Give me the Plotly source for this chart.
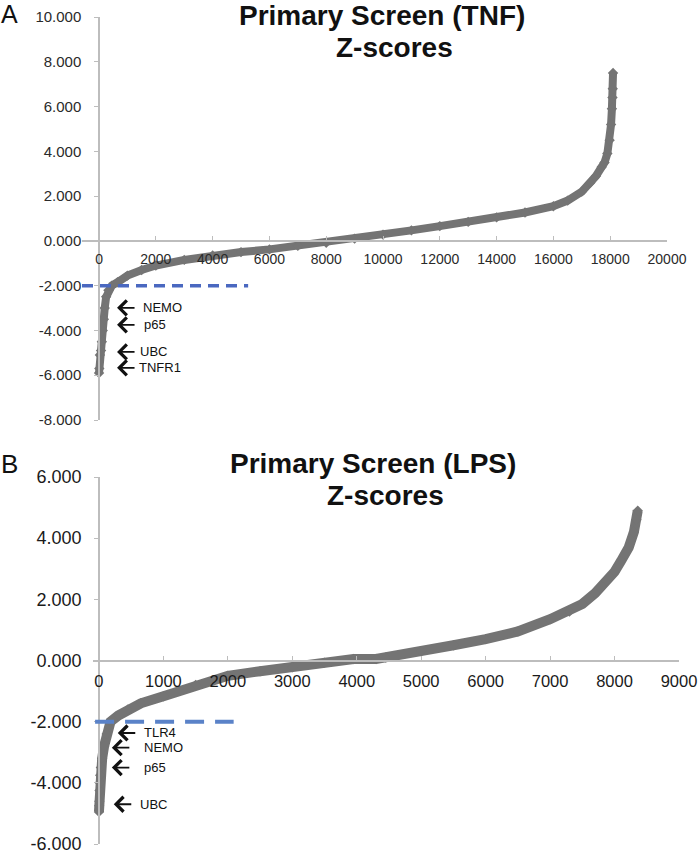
import plotly.graph_objects as go

W, H = 700, 856
FONT = "Liberation Sans, Arial, Helvetica, sans-serif"
GRAY = "#747474"
AXIS = "#bdbdbd"
BLUE_A = "#4a68c0"
BLUE_B = "#5a82c8"

# ---------------- data ----------------
# Panel A: TNF primary screen, sorted Z-scores
tnf_rank = [0, 10, 30, 70, 100, 130, 170, 200, 250, 330, 450, 650, 1000, 1500,
            2000, 3000, 4000, 5000, 6000, 7000, 8000, 9000, 10000, 11000, 12000,
            13000, 14000, 15000, 16000, 16500, 17000, 17300, 17500, 17700, 17800,
            17900, 17980, 18030, 18060, 18080, 18090, 18100]
tnf_z = [-5.9, -5.7, -5.1, -4.9, -4.5, -4.0, -3.5, -3.0, -2.5, -2.2, -2.0, -1.85,
         -1.55, -1.3, -1.1, -0.85, -0.65, -0.5, -0.38, -0.22, -0.08, 0.1, 0.28,
         0.47, 0.66, 0.85, 1.05, 1.27, 1.55, 1.8, 2.2, 2.6, 2.9, 3.3, 3.5, 3.9,
         4.5, 5.2, 5.9, 6.4, 6.8, 7.5]

# Panel B: LPS primary screen, sorted Z-scores
lps_rank = [0, 3, 6, 10, 14, 20, 30, 50, 80, 120, 180, 300, 450, 650, 1000, 1500,
            2000, 2500, 3000, 3500, 3950, 4300, 4450, 5000, 5500, 6000, 6500, 7000,
            7300, 7500, 7700, 7880, 8000, 8100, 8220, 8300, 8340, 8360]
lps_z = [-4.95, -4.75, -4.6, -4.25, -4.0, -3.75, -3.5, -3.2, -2.8, -2.4, -2.0, -1.8,
         -1.6, -1.4, -1.17, -0.8, -0.5, -0.35, -0.22, -0.07, 0.05, 0.05, 0.1, 0.3,
         0.5, 0.7, 0.95, 1.35, 1.6, 1.85, 2.2, 2.6, 2.9, 3.25, 3.7, 4.2, 4.6, 4.9]

threshold = -2.0
tnf_thr_span = [-600, 5250]
lps_thr_span = [-60, 2090]

tnf_hits = ["NEMO", "p65", "UBC", "TNFR1"]
tnf_hit_z = [-2.99, -3.75, -4.96, -5.67]
tnf_hit_rank = [634, 634, 634, 634]
tnf_label_rank = [1500, 1550, 1420, 1380]

lps_hits = ["TLR4", "NEMO", "p65", "UBC"]
lps_hit_z = [-2.37, -2.85, -3.5, -4.7]
lps_hit_rank = [292, 200, 200, 230]
lps_label_rank = [680, 680, 680, 615]

tnf_xticks = [0, 2000, 4000, 6000, 8000, 10000, 12000, 14000, 16000, 18000, 20000]
tnf_yticks = [-8, -6, -4, -2, 0, 2, 4, 6, 8, 10]
tnf_yticktext = ["-8.000", "-6.000", "-4.000", "-2.000", "0.000", "2.000",
                 "4.000", "6.000", "8.000", "10.000"]
lps_xticks = [0, 1000, 2000, 3000, 4000, 5000, 6000, 7000, 8000, 9000]
lps_yticks = [-6, -4, -2, 0, 2, 4, 6]
lps_yticktext = ["-6.000", "-4.000", "-2.000", "0.000", "2.000", "4.000", "6.000"]

# ---------------- layout geometry (pixels) ----------------
A_xr, A_yr = [-600, 20000], [-8, 10]
A_px = dict(x0=82, x1=667, ytop=17, ybot=420)
B_xr, B_yr = [-100, 9000], [-6, 6]
B_px = dict(x0=92.5, x1=679, ytop=477, ybot=844)


def dom(p):
    return [p["x0"] / W, p["x1"] / W], [1 - p["ybot"] / H, 1 - p["ytop"] / H]


A_xd, A_yd = dom(A_px)
B_xd, B_yd = dom(B_px)


def zero_pos(rng, d):
    return d[0] + (0 - rng[0]) / (rng[1] - rng[0]) * (d[1] - d[0])


fig = go.Figure()

fig.add_trace(go.Scatter(
    x=tnf_rank, y=tnf_z, xaxis="x", yaxis="y", mode="lines+markers",
    line=dict(color=GRAY, width=8),
    marker=dict(symbol="diamond", size=8, color=GRAY),
    showlegend=False, hoverinfo="skip"))
fig.add_trace(go.Scatter(
    x=lps_rank, y=lps_z, xaxis="x2", yaxis="y2", mode="lines+markers",
    line=dict(color=GRAY, width=10),
    marker=dict(symbol="diamond", size=8, color=GRAY),
    showlegend=False, hoverinfo="skip"))

# threshold lines
fig.add_shape(type="line", xref="x", yref="y", x0=tnf_thr_span[0], x1=tnf_thr_span[1],
              y0=threshold, y1=threshold, line=dict(color=BLUE_A, width=3.5, dash="11px,7px"))
fig.add_shape(type="line", xref="x2", yref="y2", x0=lps_thr_span[0], x1=lps_thr_span[1],
              y0=threshold, y1=threshold, line=dict(color=BLUE_B, width=4, dash="19px,11px"))

common_x = dict(showgrid=False, zeroline=False, showline=True, linecolor=AXIS,
                linewidth=1.5, ticks="inside", ticklen=4, tickcolor=AXIS,
                tickmode="array", anchor="free", automargin=False,
                ticklabeloverflow="allow")
common_y = dict(showgrid=False, zeroline=False, showline=True, linecolor=AXIS,
                linewidth=1.5, ticks="outside", ticklen=4, tickcolor=AXIS,
                tickmode="array", anchor="free", automargin=False,
                ticklabeloverflow="allow")

fig.update_layout(
    width=W, height=H, autosize=False,
    margin=dict(l=0, r=0, t=0, b=0, pad=0, autoexpand=False),
    paper_bgcolor="white", plot_bgcolor="white",
    font=dict(family=FONT, color="#222222"),
    xaxis=dict(common_x, domain=A_xd, range=A_xr, tickvals=tnf_xticks,
               ticktext=[str(v) for v in tnf_xticks],
               tickfont=dict(size=14, color="#2a2a2a"), ticklabelstandoff=6,
               position=zero_pos(A_yr, A_yd)),
    yaxis=dict(common_y, domain=A_yd, range=A_yr, tickvals=tnf_yticks,
               ticktext=tnf_yticktext, tickfont=dict(size=15, color="#2a2a2a"),
               ticklabelstandoff=10, position=zero_pos(A_xr, A_xd)),
    xaxis2=dict(common_x, domain=B_xd, range=B_xr, tickvals=lps_xticks,
                ticktext=[str(v) for v in lps_xticks],
                tickfont=dict(size=16.5, color="#1a1a1a"), ticklabelstandoff=6,
                position=zero_pos(B_yr, B_yd)),
    yaxis2=dict(common_y, domain=B_yd, range=B_yr, tickvals=lps_yticks,
                ticktext=lps_yticktext, tickfont=dict(size=18, color="#1a1a1a"),
                ticklabelstandoff=9, position=zero_pos(B_xr, B_xd)),
)

ann = []


def paper(xpx, ypx):
    return xpx / W, 1 - ypx / H


def txt(text, xpx, ypx, size, bold=False, xanchor="center"):
    x, y = paper(xpx, ypx)
    ann.append(dict(text=f"<b>{text}</b>" if bold else text, x=x, y=y, xref="paper",
                    yref="paper", xanchor=xanchor, yanchor="middle", showarrow=False,
                    borderpad=0,
                    font=dict(family=FONT, size=size, color="#111111")))


txt("A", 0, 14, 25, xanchor="left")
txt("B", 0, 464, 26, xanchor="left")
txt("Primary Screen (TNF)", 382, 15, 28, bold=True)
txt("Z-scores", 394, 47, 28, bold=True)
txt("Primary Screen (LPS)", 372.5, 464, 28, bold=True)
txt("Z-scores", 385, 496, 28, bold=True)

for name, z, r, lr in zip(tnf_hits, tnf_hit_z, tnf_hit_rank, tnf_label_rank):
    ann.append(dict(x=r, y=z, xref="x", yref="y", ax=19, ay=0, text="", showarrow=True,
                    arrowhead=4, arrowsize=1.6, arrowwidth=1.8, arrowcolor="#111111"))
    ann.append(dict(x=lr, y=z, xref="x", yref="y", text=name, showarrow=False,
                    xanchor="left", yanchor="middle", borderpad=0,
                    font=dict(family=FONT, size=13, color="#111111")))

for name, z, r, lr in zip(lps_hits, lps_hit_z, lps_hit_rank, lps_label_rank):
    ann.append(dict(x=r, y=z, xref="x2", yref="y2", ax=19, ay=0, text="", showarrow=True,
                    arrowhead=4, arrowsize=1.6, arrowwidth=1.8, arrowcolor="#111111"))
    ann.append(dict(x=lr, y=z, xref="x2", yref="y2", text=name, showarrow=False,
                    xanchor="left", yanchor="middle", borderpad=0,
                    font=dict(family=FONT, size=13, color="#111111")))

fig.update_layout(annotations=ann)
fig.write_html("out.html", config={"displayModeBar": False},
               post_script="document.body.style.margin='0';document.body.style.overflow='hidden';")
